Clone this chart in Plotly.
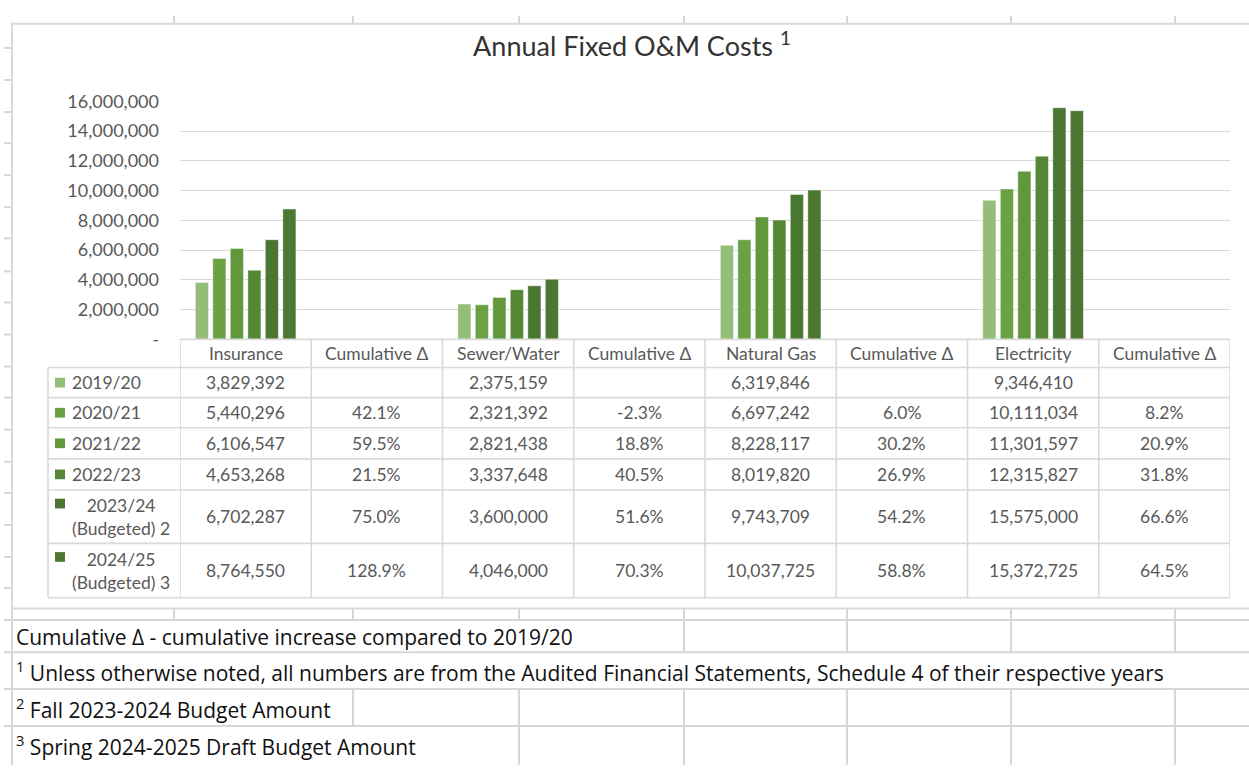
import plotly.graph_objects as go

# ---------------- data ----------------
categories = ["Insurance", "Cumulative Δ", "Sewer/Water", "Cumulative Δ",
              "Natural Gas", "Cumulative Δ", "Electricity", "Cumulative Δ"]
years = ["2019/20", "2020/21", "2021/22", "2022/23",
         "2023/24<br>(Budgeted) 2", "2024/25<br>(Budgeted) 3"]

insurance = [3829392, 5440296, 6106547, 4653268, 6702287, 8764550]
sewer_water = [2375159, 2321392, 2821438, 3337648, 3600000, 4046000]
natural_gas = [6319846, 6697242, 8228117, 8019820, 9743709, 10037725]
electricity = [9346410, 10111034, 11301597, 12315827, 15575000, 15372725]

insurance_cum = [None, 42.1, 59.5, 21.5, 75.0, 128.9]
sewer_water_cum = [None, -2.3, 18.8, 40.5, 51.6, 70.3]
natural_gas_cum = [None, 6.0, 30.2, 26.9, 54.2, 58.8]
electricity_cum = [None, 8.2, 20.9, 31.8, 66.6, 64.5]

year_colors = ["#93bd78", "#6aa142", "#62973c", "#558736", "#4a772f", "#4c7831"]

y_tick_vals = [0, 2000000, 4000000, 6000000, 8000000, 10000000, 12000000, 14000000, 16000000]
y_tick_text = ["-", "2,000,000", "4,000,000", "6,000,000", "8,000,000",
               "10,000,000", "12,000,000", "14,000,000", "16,000,000"]

title_text = "Annual Fixed O&M Costs <sup>1</sup>"
footnotes = [
    "Cumulative Δ - cumulative increase compared to 2019/20",
    "<sup>1</sup> Unless otherwise noted, all numbers are from the Audited Financial Statements, Schedule 4 of their respective years",
    "<sup>2</sup> Fall 2023-2024 Budget Amount",
    "<sup>3</sup> Spring 2024-2025 Draft Budget Amount",
]

columns = [insurance, insurance_cum, sewer_water, sewer_water_cum,
           natural_gas, natural_gas_cum, electricity, electricity_cum]
is_pct = [False, True, False, True, False, True, False, True]

# ---------------- layout helpers ----------------
W, H = 1249, 770
FONT = "Lato"
GREY_TXT = "#595959"
LINE = "#d9d9d9"
SHEET = "#d6d6d6"
TBL_SIZE = 17.5


def px(x):
    return x / W


def py(y):
    return 1 - y / H


PLOT_L, PLOT_R, PLOT_T, PLOT_B = 180, 1230, 92, 337
row_edges = [337, 366, 397, 428, 460, 492, 547, 603]
legend_left = 48

fig = go.Figure()

xs = list(range(len(categories)))
for i, yr in enumerate(years):
    yv = [None if pct else col[i] for col, pct in zip(columns, is_pct)]
    fig.add_trace(go.Bar(
        x=xs, y=yv, name=yr.replace("<br>", " "),
        marker=dict(color=year_colors[i], line=dict(color="rgba(255,255,255,0.55)", width=0.8)),
        showlegend=False, hoverinfo="skip",
    ))

shapes = []
annotations = []

# spreadsheet background grid (behind the chart object)
col_lines = [174, 353, 519, 684, 847, 1011, 1175]
row_ticks = [37, 70, 103, 135, 168, 201, 233, 267, 299, 332, 365, 397, 430, 463, 495, 528, 561, 593]
for cx in col_lines:
    shapes.append(dict(type="line", xref="paper", yref="paper", x0=px(cx), x1=px(cx),
                       y0=py(4), y1=py(12), line=dict(color=SHEET, width=2), layer="below"))
for ry in row_ticks:
    shapes.append(dict(type="line", xref="paper", yref="paper", x0=px(4), x1=px(12),
                       y0=py(ry), y1=py(ry), line=dict(color=SHEET, width=2), layer="below"))
for ry in [626, 659, 697, 735]:
    shapes.append(dict(type="line", xref="paper", yref="paper", x0=px(4), x1=px(W + 5),
                       y0=py(ry), y1=py(ry), line=dict(color=SHEET, width=2), layer="below"))
shapes.append(dict(type="line", xref="paper", yref="paper", x0=px(12), x1=px(12),
                   y0=py(12), y1=py(H + 5), line=dict(color=SHEET, width=2), layer="below"))
seg_rows = [((614, 626), col_lines),
            ((626, 659), [684, 847, 1011, 1175]),
            ((697, 735), [353, 519, 684, 847, 1011, 1175]),
            ((735, H + 5), [519, 684, 847, 1011, 1175])]
for (ya, yb), cols in seg_rows:
    for cx in cols:
        shapes.append(dict(type="line", xref="paper", yref="paper", x0=px(cx), x1=px(cx),
                           y0=py(ya), y1=py(yb), line=dict(color=SHEET, width=2), layer="below"))

# chart object frame
shapes.append(dict(type="rect", xref="paper", yref="paper", x0=px(12), x1=px(W + 20),
                   y0=py(12), y1=py(614), fillcolor="white",
                   line=dict(color=LINE, width=2), layer="below"))

# data table lines
for k, ry in enumerate(row_edges):
    x0 = PLOT_L if k == 0 else legend_left
    shapes.append(dict(type="line", xref="paper", yref="paper", x0=px(x0), x1=px(PLOT_R),
                       y0=py(ry), y1=py(ry), line=dict(color=LINE, width=1.6)))
for j in range(len(categories) + 1):
    shapes.append(dict(type="line", xref="x", yref="paper", x0=j - 0.5, x1=j - 0.5,
                       y0=py(row_edges[0]), y1=py(row_edges[-1]), line=dict(color=LINE, width=1.6)))
shapes.append(dict(type="line", xref="paper", yref="paper", x0=px(legend_left), x1=px(legend_left),
                   y0=py(row_edges[1]), y1=py(row_edges[-1]), line=dict(color=LINE, width=1.6)))

# header row (category names)
hdr_c = (row_edges[0] + row_edges[1]) / 2
for j, c in enumerate(categories):
    annotations.append(dict(xref="x", yref="paper", x=j, y=py(hdr_c), text=c, showarrow=False,
                            xanchor="center", yanchor="middle",
                            font=dict(family=FONT, size=TBL_SIZE, color=GREY_TXT)))

# body rows
for i, yr in enumerate(years):
    top, bot = row_edges[i + 1], row_edges[i + 2]
    cy = (top + bot) / 2
    two = "<br>" in yr
    sq_c = top + 14 if two else cy
    shapes.append(dict(type="rect", xref="paper", yref="paper", x0=px(55), x1=px(65),
                       y0=py(sq_c - 5), y1=py(sq_c + 5), fillcolor=year_colors[i],
                       line=dict(width=0)))
    annotations.append(dict(xref="paper", yref="paper", x=px(70), y=py(cy), text=yr,
                            showarrow=False, xanchor="left", yanchor="middle", align="center",
                            font=dict(family=FONT, size=TBL_SIZE, color=GREY_TXT)))
    for j, (col, pct) in enumerate(zip(columns, is_pct)):
        v = col[i]
        if v is None:
            continue
        txt = f"{v:.1f}%" if pct else f"{v:,.0f}"
        annotations.append(dict(xref="x", yref="paper", x=j, y=py(cy), text=txt, showarrow=False,
                                xanchor="center", yanchor="middle",
                                font=dict(family=FONT, size=TBL_SIZE, color=GREY_TXT)))

# footnotes (sheet cells below the chart)
foot_y = [643, 679, 717, 755]
for t, fy in zip(footnotes, foot_y):
    annotations.append(dict(xref="paper", yref="paper", x=px(14), y=py(fy), text=t, showarrow=False,
                            xanchor="left", yanchor="middle",
                            font=dict(family="Open Sans", size=21, color="#111111")))

fig.update_layout(
    width=W, height=H,
    margin=dict(l=0, r=0, t=0, b=0),
    paper_bgcolor="white",
    plot_bgcolor="rgba(0,0,0,0)",
    barmode="group", bargap=0.2, bargroupgap=0.25,
    title=dict(text=title_text, x=px(632), y=py(47), xanchor="center", yanchor="middle",
               font=dict(family=FONT, size=27, color="#333333")),
    xaxis=dict(domain=[px(PLOT_L), px(PLOT_R)], range=[-0.5, len(categories) - 0.5],
               showticklabels=False, showgrid=False, zeroline=False, showline=False, ticks=""),
    yaxis=dict(domain=[py(PLOT_B), py(PLOT_T)], range=[0, 16000000],
               tickvals=y_tick_vals, ticktext=y_tick_text, ticks="",
               showgrid=True, gridcolor=LINE, gridwidth=1.3, zeroline=False, showline=False,
               ticklabelstandoff=20,
               tickfont=dict(family=FONT, size=18, color=GREY_TXT)),
    shapes=shapes,
    annotations=annotations,
)

fig.write_html("out.html", config={"displayModeBar": False},
               post_script="document.body.style.margin='0';document.body.style.overflow='hidden';")
